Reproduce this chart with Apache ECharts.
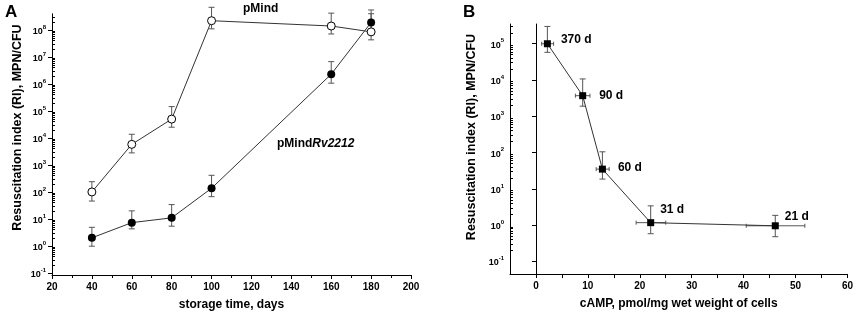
<!DOCTYPE html>
<html>
<head>
<meta charset="utf-8">
<script src="https://cdn.jsdelivr.net/npm/echarts@6/dist/echarts.min.js"></script>
<style>
  html, body { margin: 0; padding: 0; background: #fff; }
  #chart { width: 856px; height: 316px; }
</style>
</head>
<body>
<div id="chart"></div>
<script>
// panel A: resuscitation index vs storage time
const days = [40, 60, 80, 100, 160, 180]
const pMind = [100, 5800, 50000, 2.2e8, 1.4e8, 8.5e7]
const pMindLow = [46, 2800, 25000, 1.1e8, 7.1e7, 4.3e7]
const pMindHigh = [240, 13700, 145000, 6.9e8, 4.2e8, 4e8]
const pMindRv = [2.0, 7.3, 11, 137, 2.3e6, 1.9e8]
const pMindRvLow = [0.98, 4.3, 5.4, 67, 1.07e6, 8e7]
const pMindRvHigh = [4.9, 20, 34, 414, 6.7e6, 5.5e8]

// panel B: resuscitation index vs cAMP
const camp = [2.2, 9.0, 12.8, 22.1, 46.1]
const campLow = [1.1, 7.6, 11.6, 19.3, 40.5]
const campHigh = [3.4, 10.4, 14.1, 25.0, 51.8]
const ri = [1.0e5, 3.7e3, 35, 1.17, 0.96]
const riLow = [5.8e4, 1.9e3, 18.6, 0.58, 0.48]
const riHigh = [3.0e5, 1.07e4, 105, 3.4, 1.86]
const ages = ['370 d', '90 d', '60 d', '31 d', '21 d']

// tick labels
const decadesA = [0.1, 1, 10, 100, 1e3, 1e4, 1e5, 1e6, 1e7, 1e8]
const decadesB = [0.1, 1, 10, 100, 1e3, 1e4, 1e5]
const daysTicks = [20, 40, 60, 80, 100, 120, 140, 160, 180, 200]
const campTicks = [0, 10, 20, 30, 40, 50, 60]
const campMinorTicks = [0, 5, 10, 15, 20, 25, 30, 35, 40, 45, 50, 55, 60]

const FONT = "'Liberation Sans', Arial, sans-serif"
const chart = echarts.init(document.getElementById('chart'))

function minorLog(decades, max) {
  const out = []
  decades.forEach(d => {
    for (let m = 2; m <= 9; m++) {
      if (m * d <= max) out.push(m * d)
    }
  })
  return out
}

function powLabel(v) {
  const e = Math.round(Math.log10(v))
  return '{b|10}{s|' + e + '}'
}

const errStyle = { stroke: '#555', lineWidth: 1 }

function seg(x1, y1, x2, y2) {
  return { type: 'line', shape: { x1, y1, x2, y2 }, style: errStyle }
}

// vertical error bars: [x, y, low, high]
function renderV(params, api) {
  const x = api.value(0)
  const a = api.coord([x, api.value(2)])
  const b = api.coord([x, api.value(3)])
  return {
    type: 'group',
    children: [
      seg(a[0], a[1], b[0], b[1]),
      seg(a[0] - 3, a[1], a[0] + 3, a[1]),
      seg(b[0] - 3, b[1], b[0] + 3, b[1])
    ]
  }
}

// both directions: [x, y, ylow, yhigh, xlow, xhigh]
function renderXY(params, api) {
  const x = api.value(0), y = api.value(1)
  const a = api.coord([x, api.value(2)])
  const b = api.coord([x, api.value(3)])
  const l = api.coord([api.value(4), y])
  const r = api.coord([api.value(5), y])
  return {
    type: 'group',
    children: [
      seg(a[0], a[1], b[0], b[1]),
      seg(a[0] - 3, a[1], a[0] + 3, a[1]),
      seg(b[0] - 3, b[1], b[0] + 3, b[1]),
      seg(l[0], l[1], r[0], r[1]),
      seg(l[0], l[1] - 2, l[0], l[1] + 2),
      seg(r[0], r[1] - 2, r[0], r[1] + 2)
    ]
  }
}

const axisLine = { show: true, lineStyle: { color: '#000', width: 1 } }
const labelRich = {
  b: { fontSize: 9, fontWeight: 'bold', fontFamily: FONT, color: '#000', lineHeight: 12, verticalAlign: 'bottom' },
  s: { fontSize: 6, fontWeight: 'bold', fontFamily: FONT, color: '#000', lineHeight: 12, verticalAlign: 'top' }
}
const nameStyle = { fontSize: 12.5, fontWeight: 'bold', fontFamily: FONT, color: '#000' }

function logAxis(grid, min, max, decades, shift) {
  return [
    {
      type: 'log', logBase: 10, gridIndex: grid, position: 'left', min, max,
      name: 'Resuscitation index (RI), MPN/CFU', nameLocation: 'middle',
      nameGap: grid === 0 ? 28 : 32,
      nameTextStyle: { ...nameStyle, padding: [0, 0, 0, shift] },
      axisLine, splitLine: { show: false },
      axisTick: { show: true, customValues: decades, length: 4, lineStyle: { color: '#000' } },
      axisLabel: { customValues: decades, formatter: powLabel, rich: labelRich, margin: 6 }
    },
    {
      type: 'log', logBase: 10, gridIndex: grid, position: 'left', min, max,
      axisLine, splitLine: { show: false },
      axisTick: { show: true, customValues: minorLog(decades, max), inside: true, length: 3, lineStyle: { color: '#000' } },
      axisLabel: { show: false }
    }
  ]
}

const tickLabel = { fontSize: 10, fontWeight: 'bold', fontFamily: FONT, color: '#000', margin: 7 }

const option = {
  animation: false,
  textStyle: { fontFamily: FONT },
  grid: [
    { left: 52, right: 445, top: 14, bottom: 41 },
    { left: 510, right: 8, top: 24, bottom: 42 }
  ],
  xAxis: [
    {
      type: 'value', gridIndex: 0, min: 20, max: 200, interval: 20,
      name: 'storage time, days', nameLocation: 'middle', nameGap: 24,
      nameTextStyle: { ...nameStyle, fontSize: 12 },
      axisLine, splitLine: { show: false },
      axisTick: { length: 4, lineStyle: { color: '#000' } },
      minorTick: { show: true, splitNumber: 2, length: 3, lineStyle: { color: '#000' } },
      axisLabel: { ...tickLabel, customValues: daysTicks }
    },
    {
      type: 'value', gridIndex: 1, min: -5, max: 60,
      name: 'cAMP, pmol/mg wet weight of cells', nameLocation: 'middle', nameGap: 24,
      nameTextStyle: { ...nameStyle, fontSize: 12 },
      axisLine, splitLine: { show: false },
      axisTick: { customValues: campMinorTicks, length: 4, lineStyle: { color: '#000' } },
      axisLabel: { ...tickLabel, customValues: campTicks }
    }
  ],
  yAxis: [
    ...logAxis(0, 0.084, 3.9e8, decadesA, 34),
    ...logAxis(1, 0.045, 3.5e5, decadesB, 24)
  ],
  graphic: [
    { type: 'text', left: 5, top: 4, style: { text: 'A', font: 'bold 17px ' + FONT, fill: '#000' } },
    { type: 'text', left: 463, top: 4, style: { text: 'B', font: 'bold 17px ' + FONT, fill: '#000' } },
    { type: 'text', left: 243, top: 3, style: { text: 'pMind', font: 'bold 12px ' + FONT, fill: '#000' } },
    {
      type: 'text', left: 277, top: 138,
      style: {
        text: '{n|pMind}{i|Rv2212}',
        rich: {
          n: { font: 'bold 12px ' + FONT, fill: '#000' },
          i: { font: 'italic bold 12px ' + FONT, fill: '#000' }
        }
      }
    }
  ],
  series: [
    {
      type: 'custom', xAxisIndex: 0, yAxisIndex: 0, z: 1, renderItem: renderV,
      data: days.map((d, i) => [d, pMind[i], pMindLow[i], pMindHigh[i]])
    },
    {
      type: 'custom', xAxisIndex: 0, yAxisIndex: 0, z: 1, renderItem: renderV,
      data: days.map((d, i) => [d, pMindRv[i], pMindRvLow[i], pMindRvHigh[i]])
    },
    {
      name: 'pMind', type: 'line', xAxisIndex: 0, yAxisIndex: 0, z: 3,
      symbol: 'circle', symbolSize: 8,
      lineStyle: { color: '#333', width: 1 },
      itemStyle: { color: '#fff', borderColor: '#000', borderWidth: 1 },
      data: days.map((d, i) => [d, pMind[i]])
    },
    {
      name: 'pMindRv2212', type: 'line', xAxisIndex: 0, yAxisIndex: 0, z: 3,
      symbol: 'circle', symbolSize: 8,
      lineStyle: { color: '#333', width: 1 },
      itemStyle: { color: '#000' },
      data: days.map((d, i) => [d, pMindRv[i]])
    },
    {
      type: 'custom', xAxisIndex: 1, yAxisIndex: 2, z: 1, renderItem: renderXY,
      data: camp.map((c, i) => [c, ri[i], riLow[i], riHigh[i], campLow[i], campHigh[i]])
    },
    {
      type: 'line', xAxisIndex: 1, yAxisIndex: 2, z: 3,
      symbol: 'rect', symbolSize: 7,
      lineStyle: { color: '#333', width: 1 },
      itemStyle: { color: '#000' },
      data: camp.map((c, i) => {
        // label placement around each point
        const offsets = [[10, -4], [13, 0], [12, -1], [6, -13], [6, -9]]
        return {
          value: [c, ri[i]],
          label: {
            show: true, position: 'right', distance: 0, offset: offsets[i],
            formatter: ages[i], fontSize: 12, fontWeight: 'bold', fontFamily: FONT, color: '#000'
          }
        }
      })
    }
  ]
}

chart.setOption(option)
</script>
</body>
</html>
